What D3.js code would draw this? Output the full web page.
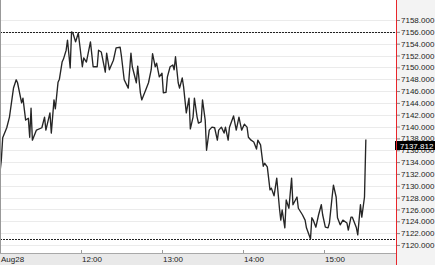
<!DOCTYPE html>
<html>
<head>
<meta charset="utf-8">
<script src="https://cdn.jsdelivr.net/npm/d3@7"></script>
<style>
  body { margin: 0; background: #fff; }
  svg { display: block; font-family: "Liberation Sans", Arial, sans-serif; }
</style>
</head>
<body>
<div id="chart"></div>
<script>
// price series (Aug 28, one point every minute or two)
var times = ["11:00","11:01","11:02","11:05","11:07","11:10","11:12","11:13","11:16","11:17",
  "11:19","11:21","11:22","11:23","11:24","11:27","11:31","11:33","11:34","11:37",
  "11:38","11:40","11:41","11:43","11:44","11:46","11:47","11:49","11:50","11:52",
  "11:53","11:54","11:56","11:58","12:01","12:02","12:04","12:07","12:09","12:12",
  "12:13","12:15","12:18","12:19","12:21","12:24","12:26","12:29","12:30","12:32",
  "12:35","12:37","12:38","12:41","12:42","12:44","12:45","12:48","12:50","12:52",
  "12:53","12:55","12:56","12:58","13:00","13:01","13:03","13:04","13:06","13:08",
  "13:09","13:10","13:12","13:13","13:15","13:16","13:18","13:20","13:21","13:23",
  "13:24","13:26","13:27","13:29","13:30","13:32","13:33","13:35","13:37","13:39",
  "13:41","13:42","13:44","13:46","13:47","13:49","13:50","13:53","13:55","13:57",
  "13:59","14:01","14:03","14:04","14:06","14:08","14:10","14:11","14:13","14:15",
  "14:16","14:18","14:20","14:21","14:23","14:25","14:27","14:28","14:29","14:31",
  "14:32","14:34","14:36","14:37","14:40","14:41","14:44","14:46","14:47","14:50",
  "14:51","14:52","14:54","14:56","14:58","14:59","15:01","15:03","15:04","15:06",
  "15:07","15:09","15:10","15:12","15:14","15:17","15:18","15:20","15:21","15:24",
  "15:25","15:27","15:28","15:30","15:31"];
var prices = [7132.3,7134.4,7138.1,7139.8,7141.6,7146.5,7147.9,7147.4,7144.0,7144.8,
  7141.1,7141.4,7138.2,7143.1,7137.7,7139.4,7139.8,7141.6,7139.4,7142.3,
  7138.9,7144.5,7143.0,7147.5,7148.0,7150.9,7151.4,7152.9,7154.6,7149.9,
  7156.0,7155.8,7154.3,7155.8,7150.1,7151.6,7150.9,7154.3,7150.1,7150.1,
  7152.9,7152.6,7149.2,7152.4,7149.6,7151.2,7153.3,7153.4,7151.8,7147.9,
  7146.5,7152.4,7150.1,7147.4,7150.2,7145.7,7144.5,7146.2,7147.4,7149.6,
  7152.3,7150.1,7150.7,7148.4,7149.0,7145.7,7145.8,7148.4,7150.1,7150.4,
  7149.6,7151.8,7147.4,7146.5,7148.2,7146.7,7142.3,7144.8,7139.6,7141.6,
  7144.8,7141.6,7140.6,7140.8,7144.5,7141.1,7136.0,7139.4,7139.9,7139.8,
  7137.7,7139.4,7139.9,7138.9,7139.9,7137.7,7139.9,7141.8,7139.4,7141.6,
  7139.4,7140.4,7139.9,7138.2,7137.7,7137.4,7136.2,7137.7,7136.9,7133.3,
  7133.8,7133.2,7129.3,7129.6,7128.3,7131.3,7126.2,7124.2,7125.9,7122.9,
  7127.6,7126.2,7131.3,7126.8,7128.1,7126.2,7125.1,7124.2,7122.9,7121.0,
  7124.6,7124.2,7123.0,7125.1,7126.8,7125.1,7123.0,7122.9,7123.7,7128.1,
  7130.1,7128.1,7124.6,7123.4,7124.2,7123.7,7122.5,7124.7,7124.7,7122.9,
  7121.7,7126.8,7124.7,7128.1,7137.812];
var priceTicks = d3.range(7120, 7158.5, 2);
var dateLabel = "Aug28";

var width = 435, height = 265;
var plotW = 396, plotH = 253;

var parseTime = d3.timeParse("%Y-%m-%d %H:%M");
var data = times.map(function (t, i) {
    return { date: parseTime("2019-08-28 " + t), price: prices[i] };
});

var start = parseTime("2019-08-28 11:00");
var x = d3.scaleTime()
    .domain([start, new Date(start.getTime() + plotW / 81 * 3600e3)])
    .range([0, plotW]);

var y = d3.scaleLinear()
    .domain([7158 - (plotH - 20) / 5.92, 7158 + 20 / 5.92])
    .range([plotH, 0]);

var svg = d3.select("#chart").append("svg")
    .attr("width", width)
    .attr("height", height);

// backgrounds
svg.append("rect").attr("x", 0).attr("y", 0).attr("width", plotW).attr("height", plotH).attr("fill", "#fff");
svg.append("rect").attr("x", 0).attr("y", plotH).attr("width", plotW).attr("height", height - plotH).attr("fill", "#e9e9e9");
svg.append("rect").attr("x", plotW).attr("y", 0).attr("width", width - plotW).attr("height", height).attr("fill", "#f3f3f3");

// faint grid
svg.append("g").selectAll("line")
    .data(priceTicks)
    .enter().append("line")
    .attr("x1", 0).attr("x2", plotW)
    .attr("y1", function (d) { return Math.round(y(d)) + 0.5; })
    .attr("y2", function (d) { return Math.round(y(d)) + 0.5; })
    .attr("stroke", "#ebebeb");

// high / low lines
var hi = d3.max(prices), lo = d3.min(prices);
svg.append("g").selectAll("line")
    .data([hi, lo])
    .enter().append("line")
    .attr("x1", 0).attr("x2", plotW)
    .attr("y1", function (d) { return Math.round(y(d)) + 0.5; })
    .attr("y2", function (d) { return Math.round(y(d)) + 0.5; })
    .attr("stroke", "#222")
    .attr("stroke-dasharray", "2,1");

// price line
var line = d3.line()
    .x(function (d) { return x(d.date); })
    .y(function (d) { return y(d.price); });

svg.append("path")
    .datum(data)
    .attr("d", line)
    .attr("fill", "none")
    .attr("stroke", "#262626")
    .attr("stroke-width", 1.35)
    .attr("stroke-linejoin", "round");

// frame
svg.append("line").attr("x1", 0.5).attr("x2", 0.5).attr("y1", 0).attr("y2", plotH)
    .attr("stroke", "#999");
svg.append("line").attr("x1", 0).attr("x2", plotW).attr("y1", plotH + 0.5).attr("y2", plotH + 0.5)
    .attr("stroke", "#a8a8a8");

// time axis
var hours = x.ticks(d3.timeHour.every(1)).filter(function (d) { return x(d) > 10; });
var tAxis = svg.append("g");
tAxis.selectAll("line")
    .data(hours)
    .enter().append("line")
    .attr("x1", function (d) { return Math.round(x(d)) + 0.5; })
    .attr("x2", function (d) { return Math.round(x(d)) + 0.5; })
    .attr("y1", plotH - 3).attr("y2", plotH)
    .attr("stroke", "#999");
tAxis.selectAll("text")
    .data(hours)
    .enter().append("text")
    .attr("x", function (d) { return Math.round(x(d)) + 1; })
    .attr("y", height - 3)
    .attr("font-size", "8px")
    .attr("fill", "#222")
    .text(d3.timeFormat("%H:%M"));
svg.append("text")
    .attr("x", 1).attr("y", height - 3)
    .attr("font-size", "8px")
    .attr("fill", "#222")
    .text(dateLabel);

// price axis
var yAxis = d3.axisRight(y)
    .tickValues(priceTicks)
    .tickSize(3)
    .tickPadding(1)
    .tickFormat(d3.format(".3f"));

var ga = svg.append("g")
    .attr("transform", "translate(" + (plotW + 1) + ",0)")
    .call(yAxis);
ga.select(".domain").remove();
ga.selectAll("line").attr("stroke", "#888");
ga.selectAll("text").attr("font-size", "8px").attr("fill", "#222")
    .attr("font-family", "'Liberation Sans', Arial, sans-serif");

// last price tag
var last = data[data.length - 1];
var tagY = Math.round(y(last.price));
svg.append("rect")
    .attr("x", plotW - 1).attr("y", tagY + 1)
    .attr("width", width - plotW + 1).attr("height", 9)
    .attr("fill", "#000");
svg.append("text")
    .attr("x", plotW + 4).attr("y", tagY + 8.5)
    .attr("font-size", "8px")
    .attr("fill", "#fff")
    .text(d3.format(".3f")(last.price));

// separator
svg.append("line")
    .attr("x1", plotW + 0.5).attr("x2", plotW + 0.5)
    .attr("y1", 0).attr("y2", height)
    .attr("stroke", "#e8262b");
</script>
</body>
</html>
